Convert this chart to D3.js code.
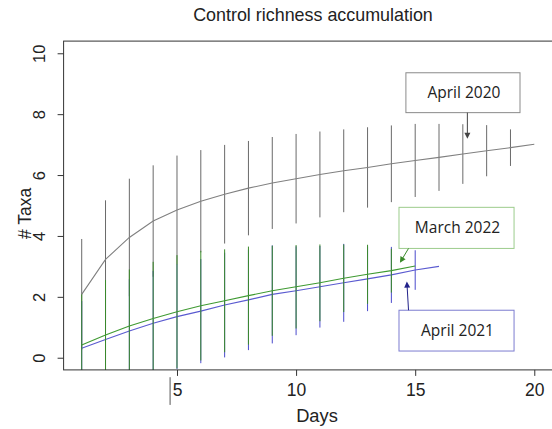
<!DOCTYPE html>
<html>
<head>
<meta charset="utf-8">
<script src="https://cdn.jsdelivr.net/npm/d3@7/dist/d3.min.js"></script>
<style>
  html, body { margin: 0; padding: 0; background: #fff; }
  svg { display: block; }
  text { font-family: "Liberation Sans", Arial, sans-serif; fill: #222; }
  .note { font-family: "Open Sans", "Noto Sans", sans-serif; }
</style>
</head>
<body>
<script>
// Mean cumulative taxa per sampling day, with one standard deviation
const days2020 = d3.range(1, 21);
const mean2020 = [2.08, 3.23, 3.95, 4.49, 4.85, 5.14, 5.37, 5.57, 5.74, 5.88,
                  6.02, 6.14, 6.25, 6.37, 6.48, 6.58, 6.69, 6.80, 6.90, 7.01];
const sd2020   = [1.82, 1.94, 1.93, 1.83, 1.79, 1.68, 1.62, 1.55, 1.51, 1.47,
                  1.41, 1.36, 1.32, 1.26, 1.20, 1.10, 0.98, 0.84, 0.60, 0.00];

const days2021 = d3.range(1, 17);
const mean2021 = [0.31, 0.60, 0.88, 1.13, 1.35, 1.53, 1.73, 1.90, 2.08, 2.20,
                  2.33, 2.46, 2.59, 2.72, 2.88, 3.00];
const sd2021   = [1.55, 1.65, 1.70, 1.72, 1.72, 1.71, 1.72, 1.65, 1.61, 1.46,
                  1.34, 1.28, 1.06, 0.92, 0.65, 0.00];

const days2022 = d3.range(1, 16);
const mean2022 = [0.42, 0.75, 1.04, 1.29, 1.51, 1.71, 1.87, 2.04, 2.20, 2.33,
                  2.46, 2.61, 2.74, 2.86, 3.01];
const sd2022   = [1.66, 1.80, 1.86, 1.86, 1.86, 1.80, 1.69, 1.61, 1.48, 1.37,
                  1.26, 1.11, 0.97, 0.72, 0.00];

const xTicks = [5, 10, 15, 20];
const yTicks = [0, 2, 4, 6, 8, 10];

const seriesNames = ["April 2020", "April 2021", "March 2022"];

const W = 552, H = 429;
const plotL = 63.6, plotR = 570, plotT = 41.1, plotB = 369.9;

const x = d3.scaleLinear().domain([0.24, 20.76]).range([plotL, 552.4]);
const y = d3.scaleLinear().domain([-0.4, 10.4]).range([plotB, plotT]);

const svg = d3.select("body").append("svg")
  .attr("width", W).attr("height", H);

svg.append("defs").append("clipPath").attr("id", "plotclip")
  .append("rect").attr("x", plotL).attr("y", plotT)
  .attr("width", plotR - plotL).attr("height", plotB - plotT);

const plot = svg.append("g").attr("clip-path", "url(#plotclip)");

function series(days, means, sds, lineColor, barColor) {
  const rows = days.map((d, i) => ({ d, m: means[i], s: sds[i] }));
  plot.append("g").selectAll("line")
    .data(rows.filter(r => r.s > 0))
    .join("line")
    .attr("x1", r => x(r.d)).attr("x2", r => x(r.d))
    .attr("y1", r => y(r.m - r.s)).attr("y2", r => y(r.m + r.s))
    .attr("stroke", barColor).attr("stroke-width", 1);
  plot.append("path")
    .datum(rows)
    .attr("fill", "none")
    .attr("stroke", lineColor).attr("stroke-width", 1.1)
    .attr("d", d3.line().x(r => x(r.d)).y(r => y(r.m)));
}

series(days2020, mean2020, sd2020, "#808080", "#6a6a6a");
series(days2021, mean2021, sd2021, "#5a5ad0", "#4a4acc");
series(days2022, mean2022, sd2022, "#3f9a32", "#3a8a2a");

// Plot frame
svg.append("rect")
  .attr("x", plotL).attr("y", plotT)
  .attr("width", plotR - plotL).attr("height", plotB - plotT)
  .attr("fill", "none").attr("stroke", "#333").attr("stroke-width", 1);

// Y axis
const yAxis = svg.append("g").attr("transform", `translate(${plotL},0)`)
  .call(d3.axisLeft(y).tickValues(yTicks).tickSize(6).tickFormat(d3.format("d")));
yAxis.select(".domain").remove();
yAxis.selectAll(".tick line").attr("stroke", "#333");
yAxis.selectAll(".tick text")
  .attr("x", null).attr("dy", null)
  .attr("transform", "translate(-18.6,0) rotate(-90)")
  .attr("text-anchor", "middle")
  .style("font-size", "16.5px").style("fill", "#222");

// X axis
const xAxis = svg.append("g").attr("transform", `translate(0,${plotB})`)
  .call(d3.axisBottom(x).tickValues(xTicks).tickSize(6).tickFormat(d3.format("d")));
xAxis.select(".domain").remove();
xAxis.selectAll(".tick line").attr("stroke", "#333");
xAxis.selectAll(".tick text")
  .attr("y", 26).attr("dy", null)
  .style("font-size", "17.5px").style("fill", "#222");

// Short stray segment under the axis near day 5
svg.append("line")
  .attr("x1", x(4.71)).attr("x2", x(4.71))
  .attr("y1", y(-0.64)).attr("y2", y(-1.55))
  .attr("stroke", "#555").attr("stroke-width", 1);

// Titles
svg.append("text").attr("x", 313).attr("y", 20.5)
  .attr("text-anchor", "middle").style("font-size", "17.9px")
  .text("Control richness accumulation");
svg.append("text").attr("x", 317).attr("y", 421.5)
  .attr("text-anchor", "middle").style("font-size", "18.3px")
  .text("Days");
svg.append("text")
  .attr("transform", "translate(30.5,213.3) rotate(-90)")
  .attr("text-anchor", "middle").style("font-size", "17.5px")
  .text("# Taxa");

// Callout labels with arrows
const callouts = [
  { name: seriesNames[0], box: [14.61, 9.36, 19.40, 8.05], stroke: "#8a8a8a",
    from: [17.19, 8.05], to: [17.19, 7.19], arrow: "#444" },
  { name: seriesNames[2], box: [14.32, 4.94, 19.15, 3.59], stroke: "#9ccc8c",
    from: [14.72, 3.59], to: [14.36, 3.12], arrow: "#3a8a2a" },
  { name: seriesNames[1], box: [14.32, 1.56, 19.15, 0.22], stroke: "#7c7cd0",
    from: [14.72, 1.56], to: [14.65, 2.50], arrow: "#22228a" }
];

const ann = svg.append("g");
callouts.forEach(c => {
  const [x0, y0, x1, y1] = c.box;
  ann.append("rect")
    .attr("x", x(x0)).attr("y", y(y0))
    .attr("width", x(x1) - x(x0)).attr("height", y(y1) - y(y0))
    .attr("fill", "#fff").attr("stroke", c.stroke).attr("stroke-width", 1);
  ann.append("text").attr("class", "note")
    .attr("x", (x(x0) + x(x1)) / 2 + 1)
    .attr("y", (y(y0) + y(y1)) / 2 + 5.5)
    .attr("text-anchor", "middle")
    .style("font-size", "15.5px").style("fill", "#222")
    .text(c.name);
  const fx = x(c.from[0]), fy = y(c.from[1]);
  const tx = x(c.to[0]), ty = y(c.to[1]);
  const ang = Math.atan2(ty - fy, tx - fx);
  const hl = 6, hw = 3;
  ann.append("line")
    .attr("x1", fx).attr("y1", fy)
    .attr("x2", tx - Math.cos(ang) * 3).attr("y2", ty - Math.sin(ang) * 3)
    .attr("stroke", c.arrow).attr("stroke-width", 1);
  const bx = tx - Math.cos(ang) * hl, by = ty - Math.sin(ang) * hl;
  const px = -Math.sin(ang) * hw, py = Math.cos(ang) * hw;
  ann.append("path")
    .attr("d", `M${tx},${ty}L${bx + px},${by + py}L${bx - px},${by - py}Z`)
    .attr("fill", c.arrow);
});
</script>
</body>
</html>
